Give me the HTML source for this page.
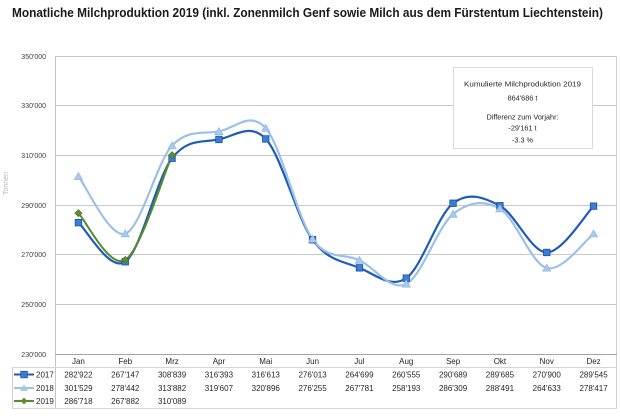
<!DOCTYPE html>
<html><head><meta charset="utf-8"><style>
html,body{margin:0;padding:0;background:#fff;}
svg{display:block;font-family:"Liberation Sans",Arial,sans-serif;}
</style></head><body>
<svg width="620" height="420" viewBox="0 0 620 420" xmlns="http://www.w3.org/2000/svg">
<rect width="620" height="420" fill="#fff"/>
<text x="12" y="17" font-size="12.5" font-weight="bold" fill="#1a1a1a" textLength="591" lengthAdjust="spacingAndGlyphs">Monatliche Milchproduktion 2019 (inkl. Zonenmilch Genf sowie Milch aus dem Fürstentum Liechtenstein)</text>

<!-- gridlines -->
<g stroke="#c8c8c8" stroke-width="1">
<line x1="55" y1="56.5" x2="617" y2="56.5"/>
<line x1="55" y1="105.5" x2="617" y2="105.5"/>
<line x1="55" y1="155.5" x2="617" y2="155.5"/>
<line x1="55" y1="205.5" x2="617" y2="205.5"/>
<line x1="55" y1="254.5" x2="617" y2="254.5"/>
<line x1="55" y1="304.5" x2="617" y2="304.5"/>
</g>
<line x1="55.5" y1="56" x2="55.5" y2="409" stroke="#c4c4c4"/>
<line x1="616.5" y1="56" x2="616.5" y2="409" stroke="#cfcfcf"/>
<line x1="55" y1="354.5" x2="617" y2="354.5" stroke="#a6a6a6"/>
<!-- table lines -->
<line x1="12" y1="367.5" x2="617" y2="367.5" stroke="#d6d6d6"/>
<line x1="12.5" y1="367.5" x2="12.5" y2="409" stroke="#d0d0d0"/>
<line x1="12" y1="408.5" x2="617" y2="408.5" stroke="#d6d6d6"/>

<!-- y labels -->
<g font-size="7" fill="#404040" text-anchor="end">
<text x="46" y="59">350'000</text>
<text x="46" y="108">330'000</text>
<text x="46" y="158">310'000</text>
<text x="46" y="208">290'000</text>
<text x="46" y="257">270'000</text>
<text x="46" y="307">250'000</text>
<text x="46" y="357">230'000</text>
</g>
<text transform="translate(8,195) rotate(-90)" font-size="7" fill="#b5b5b5">Tonnen</text>

<!-- text box -->
<rect x="453.5" y="67.5" width="139" height="81" fill="#fff" stroke="#d9d9d9"/>
<g font-size="7.3" fill="#262626" text-anchor="middle">
<text x="522.5" y="86.5" textLength="117" lengthAdjust="spacingAndGlyphs">Kumulierte Milchproduktion 2019</text>
<text x="522.5" y="100.5">864'686 t</text>
<text x="522.5" y="119.5">Differenz zum Vorjahr:</text>
<text x="522.5" y="130.5">-29'161 t</text>
<text x="522.5" y="142.5">-3.3 %</text>
</g>

<!-- series 2017 -->
<path fill="none" stroke="#1f5cb8" stroke-width="2.2" d="M78.42,222.58 C86.23,229.11 109.64,272.48 125.25,261.75 C140.86,251.02 156.47,178.60 172.08,158.22 C187.69,137.84 203.31,142.68 218.92,139.46 C234.53,136.24 250.14,122.20 265.75,138.91 C281.36,155.62 296.97,218.24 312.58,239.73 C328.19,261.22 343.81,261.43 359.42,267.83 C375.03,274.23 390.64,288.88 406.25,278.12 C421.86,267.36 437.47,215.35 453.08,203.29 C468.69,191.23 484.31,197.59 499.92,205.78 C515.53,213.97 531.14,252.37 546.75,252.43 C562.36,252.49 585.77,213.85 593.58,206.13"/>
<!-- series 2018 -->
<path fill="none" stroke="#9cc1e6" stroke-width="2.2" d="M78.42,176.37 C86.23,185.93 109.64,238.81 125.25,233.70 C140.86,228.59 156.47,162.73 172.08,145.69 C187.69,128.65 203.31,134.38 218.92,131.48 C234.53,128.58 250.14,110.34 265.75,128.28 C281.36,146.22 296.97,217.15 312.58,239.13 C328.19,261.11 343.81,252.70 359.42,260.18 C375.03,267.66 390.64,291.66 406.25,283.99 C421.86,276.32 437.47,226.71 453.08,214.17 C468.69,201.63 484.31,199.78 499.92,208.75 C515.53,217.72 531.14,263.83 546.75,268.00 C562.36,272.17 585.77,239.47 593.58,233.76"/>
<!-- series 2019 -->
<path fill="none" stroke="#5a8a2a" stroke-width="2" d="M78.42,213.15 C86.23,220.95 109.64,269.60 125.25,259.93 C140.86,250.26 164.27,172.58 172.08,155.11"/>

<!-- markers 2017 -->
<g fill="#3a7fd5" stroke="#1f4e9c" stroke-width="0.8">
<rect x="75.2" y="219.4" width="6.5" height="6.5"/>
<rect x="122" y="258.5" width="6.5" height="6.5"/>
<rect x="168.8" y="155" width="6.5" height="6.5"/>
<rect x="215.7" y="136.2" width="6.5" height="6.5"/>
<rect x="262.5" y="135.7" width="6.5" height="6.5"/>
<rect x="309.3" y="236.5" width="6.5" height="6.5"/>
<rect x="356.2" y="264.6" width="6.5" height="6.5"/>
<rect x="403" y="274.9" width="6.5" height="6.5"/>
<rect x="449.8" y="200" width="6.5" height="6.5"/>
<rect x="496.7" y="202.5" width="6.5" height="6.5"/>
<rect x="543.5" y="249.2" width="6.5" height="6.5"/>
<rect x="590.3" y="202.9" width="6.5" height="6.5"/>
</g>
<!-- markers 2018 -->
<g fill="#a9c8ea" stroke="#8fb6e0" stroke-width="0.6">
<polygon points="78.42,172.4 82.6,179.6 74.2,179.6"/>
<polygon points="125.25,229.7 129.4,236.9 121.1,236.9"/>
<polygon points="172.08,141.7 176.3,148.9 167.9,148.9"/>
<polygon points="218.92,127.5 223.1,134.7 214.7,134.7"/>
<polygon points="265.75,124.3 269.9,131.5 261.6,131.5"/>
<polygon points="312.58,235.1 316.8,242.3 308.4,242.3"/>
<polygon points="359.42,256.2 363.6,263.4 355.2,263.4"/>
<polygon points="406.25,280 410.4,287.2 402.1,287.2"/>
<polygon points="453.08,210.2 457.3,217.4 448.9,217.4"/>
<polygon points="499.92,204.8 504.1,212 495.7,212"/>
<polygon points="546.75,264 550.9,271.2 542.6,271.2"/>
<polygon points="593.58,229.8 597.8,237 589.4,237"/>
</g>
<!-- markers 2019 -->
<g fill="#5e8c31" stroke="#4a7424" stroke-width="0.6">
<polygon points="78.42,209.6 82,213.15 78.42,216.7 74.8,213.15"/>
<polygon points="125.25,256.4 128.8,259.93 125.25,263.5 121.7,259.93"/>
<polygon points="172.08,151.6 175.6,155.11 172.08,158.7 168.5,155.11"/>
</g>

<!-- table -->
<g font-size="8" fill="#262626" text-anchor="middle">
<text x="78.42" y="364">Jan</text>
<text x="125.25" y="364">Feb</text>
<text x="172.08" y="364">Mrz</text>
<text x="218.92" y="364">Apr</text>
<text x="265.75" y="364">Mai</text>
<text x="312.58" y="364">Jun</text>
<text x="359.42" y="364">Jul</text>
<text x="406.25" y="364">Aug</text>
<text x="453.08" y="364">Sep</text>
<text x="499.92" y="364">Okt</text>
<text x="546.75" y="364">Nov</text>
<text x="593.58" y="364">Dez</text>

<text x="78.42" y="377.5">282'922</text>
<text x="125.25" y="377.5">267'147</text>
<text x="172.08" y="377.5">308'839</text>
<text x="218.92" y="377.5">316'393</text>
<text x="265.75" y="377.5">316'613</text>
<text x="312.58" y="377.5">276'013</text>
<text x="359.42" y="377.5">264'699</text>
<text x="406.25" y="377.5">260'555</text>
<text x="453.08" y="377.5">290'689</text>
<text x="499.92" y="377.5">289'685</text>
<text x="546.75" y="377.5">270'900</text>
<text x="593.58" y="377.5">289'545</text>

<text x="78.42" y="391">301'529</text>
<text x="125.25" y="391">278'442</text>
<text x="172.08" y="391">313'882</text>
<text x="218.92" y="391">319'607</text>
<text x="265.75" y="391">320'896</text>
<text x="312.58" y="391">276'255</text>
<text x="359.42" y="391">267'781</text>
<text x="406.25" y="391">258'193</text>
<text x="453.08" y="391">286'309</text>
<text x="499.92" y="391">288'491</text>
<text x="546.75" y="391">264'633</text>
<text x="593.58" y="391">278'417</text>

<text x="78.42" y="404">286'718</text>
<text x="125.25" y="404">267'882</text>
<text x="172.08" y="404">310'089</text>
</g>

<!-- legend keys -->
<line x1="14" y1="374.5" x2="34" y2="374.5" stroke="#1f5cb8" stroke-width="2"/>
<rect x="20.8" y="371.3" width="6.5" height="6.5" fill="#3a7fd5" stroke="#1f4e9c" stroke-width="0.8"/>
<line x1="14" y1="388" x2="34" y2="388" stroke="#9cc1e6" stroke-width="2"/>
<polygon points="24,384.2 28,391 20,391" fill="#a9c8ea"/>
<line x1="14" y1="401" x2="34" y2="401" stroke="#5a8a2a" stroke-width="2"/>
<polygon points="24,397.6 27.4,401 24,404.4 20.6,401" fill="#5e8c31"/>
<g font-size="8" fill="#262626">
<text x="36" y="377.5">2017</text>
<text x="36" y="391">2018</text>
<text x="36" y="404">2019</text>
</g>
</svg>
</body></html>
